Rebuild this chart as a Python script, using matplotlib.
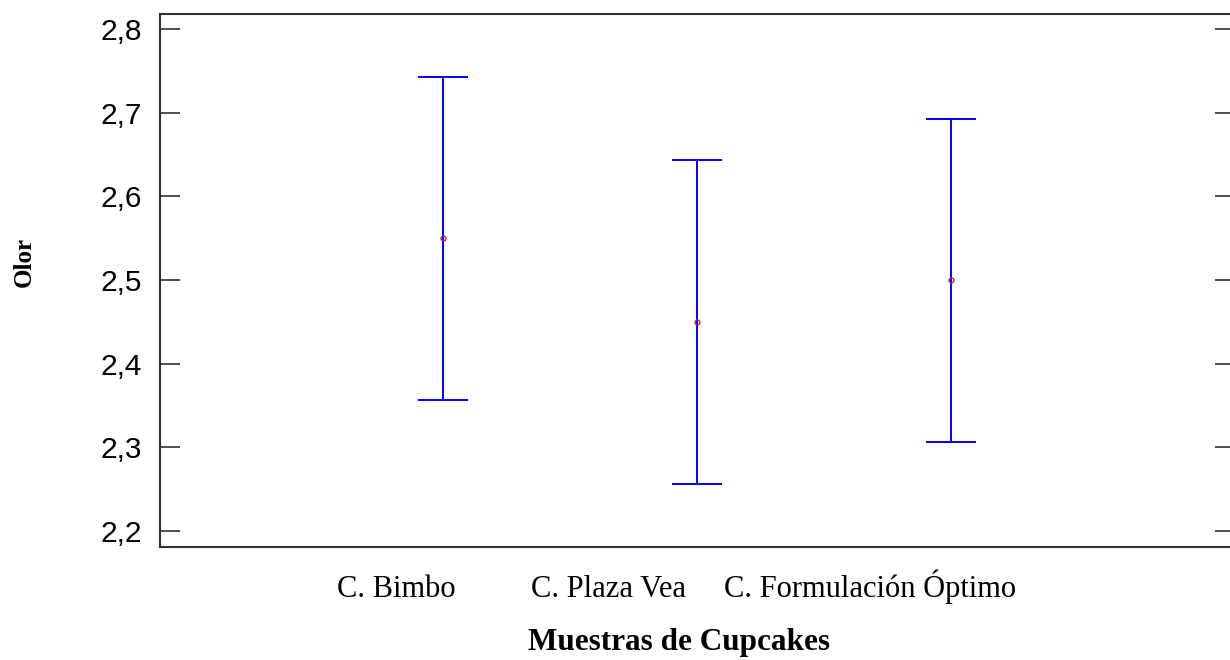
import matplotlib.pyplot as plt
import matplotlib.transforms as mtransforms

# datos (medias e intervalos)
muestras = ['C. Bimbo', 'C. Plaza Vea', 'C. Formulación Óptimo']
posiciones = [1, 2, 3]
medias = [2.55, 2.45, 2.50]
inferior = [2.357, 2.256, 2.306]
superior = [2.743, 2.643, 2.693]
etiqueta_pos = [0.815, 1.652, 2.683]
yticks = [2.2, 2.3, 2.4, 2.5, 2.6, 2.7, 2.8]

err_low = [m - lo for m, lo in zip(medias, inferior)]
err_high = [hi - m for m, hi in zip(medias, superior)]

fig = plt.figure(figsize=(12.3, 6.6), dpi=100)
ax = fig.add_axes([0.1301, 0.1712, 0.874, 0.8076])

ax.errorbar(posiciones, medias, yerr=[err_low, err_high], fmt='none',
            ecolor='#0000ff', elinewidth=1.4, capsize=18, capthick=1.4)
ax.plot(posiciones, medias, 'o', ms=3.5, mfc='none', mec='#b0206a', mew=1.0)

ax.set_xlim(-0.114, 4.118)
ax.set_ylim(2.181, 2.818)
ax.set_yticks(yticks)
ax.set_yticklabels([f'{v:.1f}'.replace('.', ',') for v in yticks],
                   family='Liberation Sans', fontsize=21.5)
ax.tick_params(axis='y', direction='in', length=14.4, width=1.2,
               color='#303030', right=True, pad=13)
ax.set_xticks([])

# etiquetas de categorias alineadas por la linea base
trans = mtransforms.blended_transform_factory(ax.transData, ax.transAxes)
for xp, nombre in zip(etiqueta_pos, muestras):
    ax.text(xp, -0.094, nombre, transform=trans, family='Liberation Serif',
            fontsize=22, ha='center', va='baseline')

for s in ax.spines.values():
    s.set_linewidth(1.5)
    s.set_color('#303030')

fig.text(0.552, 0.026, 'Muestras de Cupcakes', family='Liberation Serif',
         fontweight='bold', fontsize=22.5, ha='center', va='center')
fig.text(0.020, 0.603, 'Olor', family='Liberation Serif', fontweight='bold',
         fontsize=18, rotation=90, ha='center', va='center')

fig.savefig('out.png', dpi=100)
